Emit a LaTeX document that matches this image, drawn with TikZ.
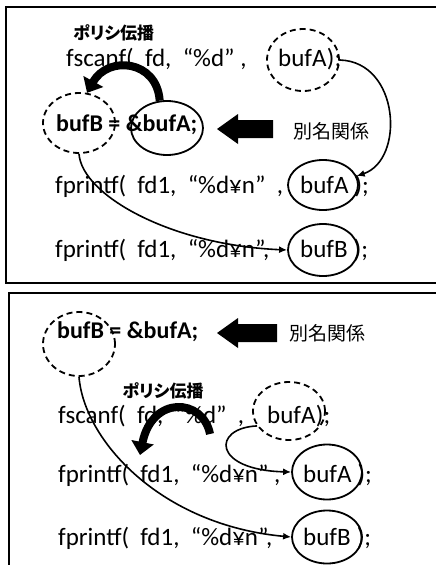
\documentclass[tikz,border=0pt]{standalone}
\usepackage{fontspec}
\setmainfont{Carlito}
\newfontfamily\jp{Noto Sans CJK JP}
\newfontfamily\jpp{Noto Sans CJK JP}[RawFeature=+palt]
\usetikzlibrary{shapes.geometric, arrows.meta}
\tikzset{
 code/.style={font=\fontsize{25}{30}\selectfont, inner sep=0pt, anchor=base west},
 codeb/.style={code, font=\fontsize{24}{29}\selectfont\bfseries},
 jplabel/.style={font=\jp\fontsize{19}{22}\selectfont, inner sep=0pt},
 jptitle/.style={font=\jpp\bfseries\fontsize{17}{20}\selectfont, inner sep=0pt},
 dashring/.style={ellipse, draw, line width=1.8pt, dash pattern=on 6pt off 4pt, inner sep=0pt},
 ring/.style={ellipse, draw, line width=1.8pt, inner sep=0pt},
 link/.style={line width=1.6pt, -{Latex[length=8pt,width=7pt]}},
 bendarrow/.style={line width=8pt, -{Triangle[length=13pt,width=22pt]}},
 panel/.style={draw, line width=2pt}
}
\begin{document}
\begin{tikzpicture}[x=1pt, y=-1pt]
\useasboundingbox (0,0) rectangle (436,565);
% panels
\draw[panel] (6,7) rectangle (450,283);
\draw[panel] (9,293) rectangle (450,580);

% ---------- top panel ----------
\node[jptitle, anchor=west] (tT) at (73,33) {ポリシ伝播};
\node[code] (tL1a) at (66,66) {fscanf(\ \ fd,\ \ “\%d”\ ,};
\node[code] (tL1w) at (278,66) {bufA};
\node[code] (tL1s) at (tL1w.base east) {);};

\node[codeb] (tL2) at (56,131) {bufB = \&bufA;};

\node[code] (tL3a) at (55,193) {fprintf(\ \ fd1,\ \ “\%d¥n”\ \ ,};
\node[code] (tL3w) at (300,193) {bufA};
\node[code] (tL3s) at (tL3w.base east) {\ );};

\node[code] (tL4a) at (55,257) {fprintf(\ \ fd1,\ \ “\%d¥n”,};
\node[code] (tL4w) at (300,257) {bufB};
\node[code] (tL4s) at (tL4w.base east) {\ );};

\node[dashring, minimum width=72pt, minimum height=62pt] (tA1) at (303,60) {};
\node[dashring, minimum width=72pt, minimum height=60pt] (tB2) at (79,123) {};
\node[ring, minimum width=72pt, minimum height=54pt] (tA2) at (167,128) {};
\node[ring, minimum width=70pt, minimum height=50pt] (tA3) at (323,185) {};
\node[ring, minimum width=70pt, minimum height=52pt] (tB4) at (323,250) {};

\fill (217,129) -- (238,114) -- (238,120) -- (273,120) -- (273,138) -- (238,138) -- (238,144) -- cycle;
\node[jplabel] (tAlias) at (331,131) {別名関係};

\draw[bendarrow] (tA2.105) .. controls (157,60) and (108,55) .. (tB2.75);
\draw[link] (tA1.east) .. controls (400,62) and (405,160) .. (tA3.15);
\draw[link] (tB2.south) .. controls (82,195) and (170,245) .. (tB4.west);

% ---------- bottom panel ----------
\node[codeb] (bL1) at (57,338) {bufB = \&bufA;};
\node[dashring, minimum width=72pt, minimum height=64pt] (bB1) at (79,344) {};

\fill (217,333) -- (238,318) -- (238,324) -- (277,324) -- (277,342) -- (238,342) -- (238,348) -- cycle;
\node[jplabel] (bAlias) at (327,333) {別名関係};

\node[jptitle] (bT) at (163,391) {ポリシ伝播};
\node[code] (bL2a) at (58,423) {fscanf(\ \ fd,\ \ “\%d”\ \ ,};
\node[code] (bL2w) at (267,423) {bufA};
\node[code] (bL2s) at (bL2w.base east) {);};
\node[dashring, minimum width=72pt, minimum height=58pt] (bA1) at (289,411) {};

\node[code] (bL3a) at (58,482) {fprintf(\ \ fd1,\ \ “\%d¥n”\ ,};
\node[code] (bL3w) at (303,482) {bufA};
\node[code] (bL3s) at (bL3w.base east) {\ );};
\node[ring, minimum width=70pt, minimum height=55pt] (bA3) at (327,472) {};

\node[code] (bL4a) at (58,545) {fprintf(\ \ fd1,\ \ “\%d¥n”,};
\node[code] (bL4w) at (303,545) {bufB};
\node[code] (bL4s) at (bL4w.base east) {\ );};
\node[ring, minimum width=70pt, minimum height=53pt] (bB4) at (327,537) {};

\coordinate (bBendS) at (210,434);
\coordinate (bBendE) at (140,455);
\draw[bendarrow] (bBendS) .. controls (203,398) and (152,395) .. (bBendE);
\draw[link] (bA1.205) .. controls (212,428) and (212,470) .. (bA3.west);
\draw[link] (bB1.south) .. controls (84,440) and (160,525) .. (bB4.west);
\end{tikzpicture}
\end{document}
